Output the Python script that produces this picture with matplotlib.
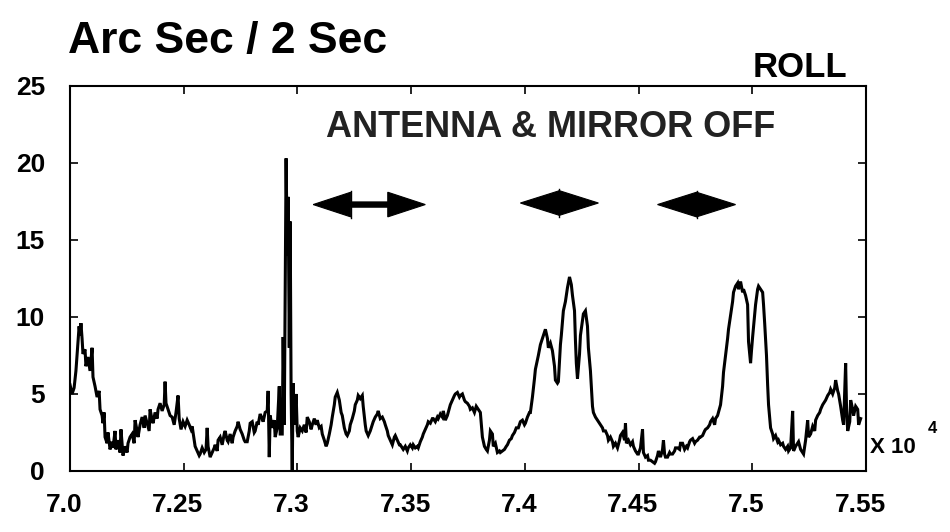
import matplotlib
matplotlib.use("Agg")
import matplotlib.pyplot as plt
import matplotlib.transforms as mtransforms

plt.rcParams["font.family"] = ["Liberation Sans", "DejaVu Sans"]
plt.rcParams["font.weight"] = "bold"

# roll rate trace: time (s) and rate (arc sec / 2 sec)
t_sec = [
    72000, 72009, 72018, 72026, 72035, 72040, 72044, 72048, 72053, 72057,
    72066, 72070, 72079, 72088, 72097, 72101, 72110, 72119, 72128, 72132,
    72141, 72145, 72150, 72154, 72163, 72167, 72176, 72185, 72189, 72198,
    72202, 72211, 72220, 72224, 72233, 72242, 72251, 72255, 72264, 72273,
    72282, 72286, 72295, 72299, 72308, 72317, 72326, 72330, 72339, 72348,
    72352, 72361, 72365, 72374, 72383, 72387, 72396, 72405, 72414, 72418,
    72422, 72431, 72440, 72449, 72458, 72466, 72475, 72480, 72488, 72497,
    72506, 72515, 72524, 72532, 72537, 72546, 72550, 72559, 72568, 72572,
    72581, 72590,
    72598, 72603, 72607, 72616, 72625, 72634, 72638, 72647, 72651, 72660,
    72669, 72678, 72682, 72691, 72695, 72704, 72713, 72717, 72726, 72735,
    72739, 72748, 72757, 72766, 72770, 72779, 72788, 72792, 72801, 72810,
    72814, 72823, 72827, 72836, 72845, 72849, 72858, 72867, 72871, 72876,
    72880, 72889, 72898, 72902, 72911, 72920, 72924, 72933, 72937, 72942,
    72946, 72950, 72955, 72959, 72964, 72968, 72972, 72977, 72981, 72986,
    72990, 72994, 72999, 73003, 73012, 73021, 73030, 73038, 73043, 73052,
    73060, 73065, 73074, 73082, 73087, 73096, 73104, 73109, 73118, 73126,
    73131, 73140, 73148, 73153, 73162, 73166,
    73175, 73184, 73192, 73197, 73206, 73214, 73219, 73228, 73232, 73241,
    73250, 73254, 73263, 73267, 73276, 73285, 73289, 73298, 73302, 73311,
    73320, 73329, 73333, 73342, 73351, 73355, 73364, 73373, 73382, 73386,
    73395, 73399, 73408, 73417, 73426, 73430, 73439, 73448, 73452, 73461,
    73465, 73474, 73483, 73487, 73496, 73505, 73509, 73518, 73527, 73531,
    73540, 73549, 73553, 73562, 73571, 73575, 73584, 73593, 73597, 73606,
    73615, 73619, 73628, 73637, 73641, 73650, 73659, 73668, 73672, 73681,
    73690, 73694, 73703, 73712, 73716, 73725, 73734, 73738, 73747, 73756,
    73760,
    73769, 73778, 73786, 73795, 73804, 73813, 73822, 73830, 73835, 73844,
    73848, 73857, 73861, 73870, 73879, 73888, 73892, 73901, 73910, 73918,
    73923, 73932, 73940, 73945, 73954, 73962, 73971, 73980, 73989, 73998,
    74002, 74011, 74020, 74024, 74033, 74042, 74046, 74055, 74059, 74068,
    74077, 74086, 74090, 74099, 74103, 74112, 74121, 74130, 74134, 74143,
    74147, 74156, 74160, 74169, 74178, 74187, 74196, 74204, 74209, 74218,
    74222, 74226, 74231, 74240, 74244, 74253, 74257, 74266, 74275, 74279,
    74288, 74297, 74301, 74310, 74319, 74323, 74332, 74341, 74345, 74354,
    74363, 74367, 74376, 74385, 74389, 74398, 74407, 74416, 74420, 74429,
    74438, 74442, 74446, 74455, 74464, 74473, 74477, 74486, 74495, 74499,
    74508, 74517, 74521, 74530, 74539, 74543, 74552, 74561, 74570, 74574,
    74583, 74587, 74596, 74605, 74609, 74614, 74618, 74627, 74636, 74640,
    74649, 74658, 74662, 74671, 74680, 74684, 74693, 74702, 74710, 74715,
    74724, 74728, 74737, 74746, 74750, 74759, 74768, 74772, 74781, 74790,
    74794, 74803, 74812, 74816, 74825, 74834, 74838, 74847, 74856, 74860,
    74869, 74873, 74882, 74891, 74895, 74904, 74913, 74917, 74926, 74935,
    74939, 74948, 74957, 74961,
    74970, 74979, 74983, 74992, 74996, 75001, 75010, 75014, 75023, 75027,
    75036, 75045, 75049, 75054, 75062, 75067, 75071, 75080, 75089, 75093,
    75102, 75111, 75115, 75124, 75133, 75137, 75146, 75155, 75159, 75168,
    75177, 75181, 75190, 75199, 75203, 75212, 75221, 75225, 75234, 75243,
    75247, 75256, 75265, 75274, 75278, 75287, 75296, 75300, 75309, 75318,
    75322, 75331, 75340, 75344, 75353, 75362, 75366, 75375, 75379, 75388,
    75397, 75401, 75410, 75414, 75419, 75428, 75432, 75441, 75445, 75454,
    75463, 75467, 75476,
]
roll_rate = [
    5.6, 5.0, 5.4, 6.5, 8.4, 9.4, 8.8, 9.6, 8.6, 7.6,
    7.9, 6.8, 7.4, 6.5, 8.0, 6.1, 5.5, 4.8, 5.2, 4.0,
    3.6, 3.1, 3.8, 2.2, 1.8, 2.5, 1.4, 1.9, 1.5, 2.6,
    1.4, 2.0, 1.2, 2.7, 1.0, 1.6, 1.2, 1.8, 2.2, 2.4,
    1.8, 3.3, 2.6, 2.2, 3.0, 3.5, 2.8, 3.6, 3.1, 2.6,
    4.0, 3.3, 3.1, 3.8, 3.4, 4.0, 4.4, 3.9, 4.3, 5.8,
    4.4, 4.0, 3.6, 3.5, 3.0, 3.8, 4.9, 3.4, 2.7, 3.2,
    2.9, 3.3, 3.0, 2.7, 2.9, 2.0, 1.6, 1.3, 1.0, 1.1,
    1.5, 1.2,
    1.4, 2.8, 1.6, 0.9, 1.2, 1.5, 1.7, 1.3, 2.0, 2.2,
    1.7, 2.4, 2.6, 2.0, 1.9, 2.4, 1.8, 2.2, 2.6, 2.9,
    3.2, 2.7, 2.4, 2.0, 1.9, 1.9, 2.6, 3.1, 3.2, 2.5,
    2.6, 3.2, 3.0, 3.7, 3.4, 3.2, 3.8, 3.9, 5.2, 0.9,
    3.6, 2.8, 3.3, 2.2, 2.8, 5.5, 2.4, 2.4, 8.7, 3.0,
    12.0, 20.3, 14.0, 17.8, 8.0, 16.2, 5.0, 0.0, 5.7, 3.0,
    4.0, 5.0, 2.6, 2.2, 2.8, 2.6, 3.0, 2.5, 3.5, 3.2,
    2.7, 3.0, 3.4, 3.0, 3.3, 2.8, 2.9, 2.4, 2.0, 1.6,
    1.8, 2.4, 3.0, 3.5, 4.3, 4.8,
    5.1, 4.6, 3.8, 3.6, 2.8, 2.4, 2.3, 2.6, 3.0, 3.4,
    3.9, 4.3, 4.6, 4.9, 4.7, 4.9, 4.2, 3.0, 2.6, 2.3,
    2.6, 3.0, 3.2, 3.5, 3.7, 3.9, 3.4, 3.5, 3.2, 3.0,
    2.6, 2.3, 2.0, 1.7, 2.2, 2.3, 2.0, 1.7, 1.7, 1.5,
    1.4, 1.6, 1.3, 1.5, 1.7, 1.5, 1.7, 1.5, 1.6, 1.5,
    1.9, 2.2, 2.4, 2.7, 3.0, 3.2, 3.1, 3.4, 3.4, 3.2,
    3.5, 3.4, 3.7, 3.5, 3.9, 3.3, 3.6, 4.1, 4.3, 4.6,
    4.9, 5.0, 5.1, 4.8, 4.9, 5.0, 4.6, 4.5, 4.4, 4.2,
    4.0,
    4.1, 3.8, 4.2, 4.0, 3.8, 2.2, 1.6, 1.4, 1.3, 2.0,
    2.6, 2.4, 1.6, 1.8, 1.2, 1.3, 1.2, 1.3, 1.4, 1.6,
    1.7, 2.0, 2.1, 2.3, 2.5, 2.8, 2.8, 3.2, 3.3, 3.0,
    3.1, 3.5, 3.8, 3.8, 4.8, 6.0, 6.6, 7.2, 7.5, 8.2,
    8.6, 9.0, 9.2, 8.6, 8.0, 8.3, 7.8, 6.8, 5.9, 5.7,
    5.8, 8.2, 8.8, 10.4, 11.0, 11.9, 12.6, 12.1, 11.4, 10.4,
    8.5, 7.0, 6.0, 7.6, 8.8, 9.8, 10.2, 10.4, 9.4, 8.0,
    6.5, 4.2, 3.8, 3.5, 3.3, 3.2, 3.0, 2.8, 2.6, 2.6,
    2.3, 2.0, 2.2, 1.9, 1.6, 1.8, 1.5, 2.0, 2.3, 2.5,
    2.0, 3.1, 1.8, 2.0, 1.7, 1.9, 1.6, 1.3, 1.1, 1.1,
    1.5, 2.7, 1.2, 0.9, 1.0, 0.7, 0.7, 0.6, 0.5, 0.6,
    1.0, 1.3, 0.9, 1.4, 2.0, 1.1, 0.9, 0.9, 1.2, 1.1,
    1.1, 1.3, 1.5, 1.5, 1.4, 1.8, 1.8, 1.4, 1.6, 1.5,
    1.9, 2.0, 2.1, 1.8, 1.9, 2.0, 2.2, 2.2, 2.3, 2.6,
    2.7, 2.8, 3.0, 3.2, 3.4, 3.0, 3.4, 3.6, 4.1, 4.3,
    5.5, 6.4, 7.5, 8.6, 9.2, 10.1, 11.0, 11.6, 12.0, 12.2,
    11.8, 12.3, 11.6, 11.8,
    11.4, 10.8, 8.4, 7.0, 7.8, 8.7, 10.2, 10.8, 11.8, 12.0,
    11.8, 11.6, 10.8, 9.6, 7.5, 5.6, 4.3, 2.8, 2.4, 2.1,
    2.3, 1.9, 2.0, 1.7, 1.8, 1.6, 1.4, 1.6, 1.3, 1.5,
    3.9, 1.3, 1.6, 1.8, 1.9, 1.4, 1.2, 1.1, 2.0, 3.3,
    2.2, 2.4, 2.9, 2.6, 3.3, 3.6, 3.8, 4.0, 4.3, 4.5,
    4.6, 4.9, 5.1, 5.3, 5.0, 5.4, 5.9, 5.2, 5.0, 4.2,
    3.3, 3.0, 7.0, 4.0, 2.6, 3.2, 4.6, 4.0, 3.6, 4.2,
    4.0, 3.0, 3.4,
]

x_ticks = [72000, 72500, 73000, 73500, 74000, 74500, 75000, 75500]
x_tick_labels = ["7.0", "7.25", "7.3", "7.35", "7.4", "7.45", "7.5", "7.55"]
y_ticks = [0, 5, 10, 15, 20, 25]

# "off" intervals: (start s, end s, level, head length s)
off_spans = [
    (73069, 73562, 17.3, 165),
    (73980, 74323, 17.4, None),
    (74583, 74926, 17.3, None),
]


def double_arrow(ax, x0, x1, y, head_len, half_h=0.8, shaft_h=0.17):
    if head_len is None:
        # two heads meeting in the middle -> diamond
        head_len = (x1 - x0) / 2.0
        shaft_h = 0.0
    xs = [x0, x0 + head_len, x0 + head_len, x1 - head_len, x1 - head_len,
          x1, x1 - head_len, x1 - head_len, x0 + head_len, x0 + head_len]
    ys = [y, y + half_h, y + shaft_h, y + shaft_h, y + half_h,
          y, y - half_h, y - shaft_h, y - shaft_h, y - half_h]
    ax.fill(xs, ys, color="black", lw=0.8, zorder=3)
    ax.plot([x0 + head_len, x0 + head_len], [y - half_h * 1.1, y + half_h * 1.1],
            color="black", lw=1.0, zorder=3)


fig = plt.figure(figsize=(9.5, 5.32), dpi=100)
ax = fig.add_axes([0.0737, 0.1147, 0.838, 0.7237])

ax.plot(t_sec, roll_rate, color="black", lw=2.2, solid_joinstyle="miter")

for x0, x1, y, hl in off_spans:
    double_arrow(ax, x0, x1, y, hl)

ax.set_xlim(72000, 75500)
ax.set_ylim(0, 25)
ax.set_xticks(x_ticks)
ax.set_xticklabels(x_tick_labels)
ax.set_yticks(y_ticks)
ax.tick_params(axis="both", direction="in", length=6, width=1.2,
               top=True, right=True, labelsize=19)
ax.tick_params(axis="x", pad=16)
ax.tick_params(axis="y", pad=18)
for lab in ax.get_xticklabels() + ax.get_yticklabels():
    lab.set_fontweight("bold")
# x labels sit a little left of their ticks
shift = mtransforms.ScaledTranslation(-6 / 100, 0, fig.dpi_scale_trans)
for lab in ax.get_xticklabels():
    lab.set_transform(lab.get_transform() + shift)
for sp in ax.spines.values():
    sp.set_linewidth(1.5)

fig.text(0.0716, 0.9004, "Arc Sec / 2 Sec", fontsize=32, fontweight="bold",
         ha="left", va="baseline")
fig.text(0.792, 0.855, "ROLL", fontsize=25, fontweight="bold",
         ha="left", va="baseline")
fig.text(0.343, 0.7425, "ANTENNA & MIRROR OFF", fontsize=26, fontweight="bold",
         color="#222222", ha="left", va="baseline")
fig.text(0.916, 0.148, "X 10", fontsize=16, fontweight="bold",
         ha="left", va="baseline")
fig.text(0.977, 0.186, "4", fontsize=12, fontweight="bold",
         ha="left", va="baseline")

fig.savefig("out.png", dpi=100)
